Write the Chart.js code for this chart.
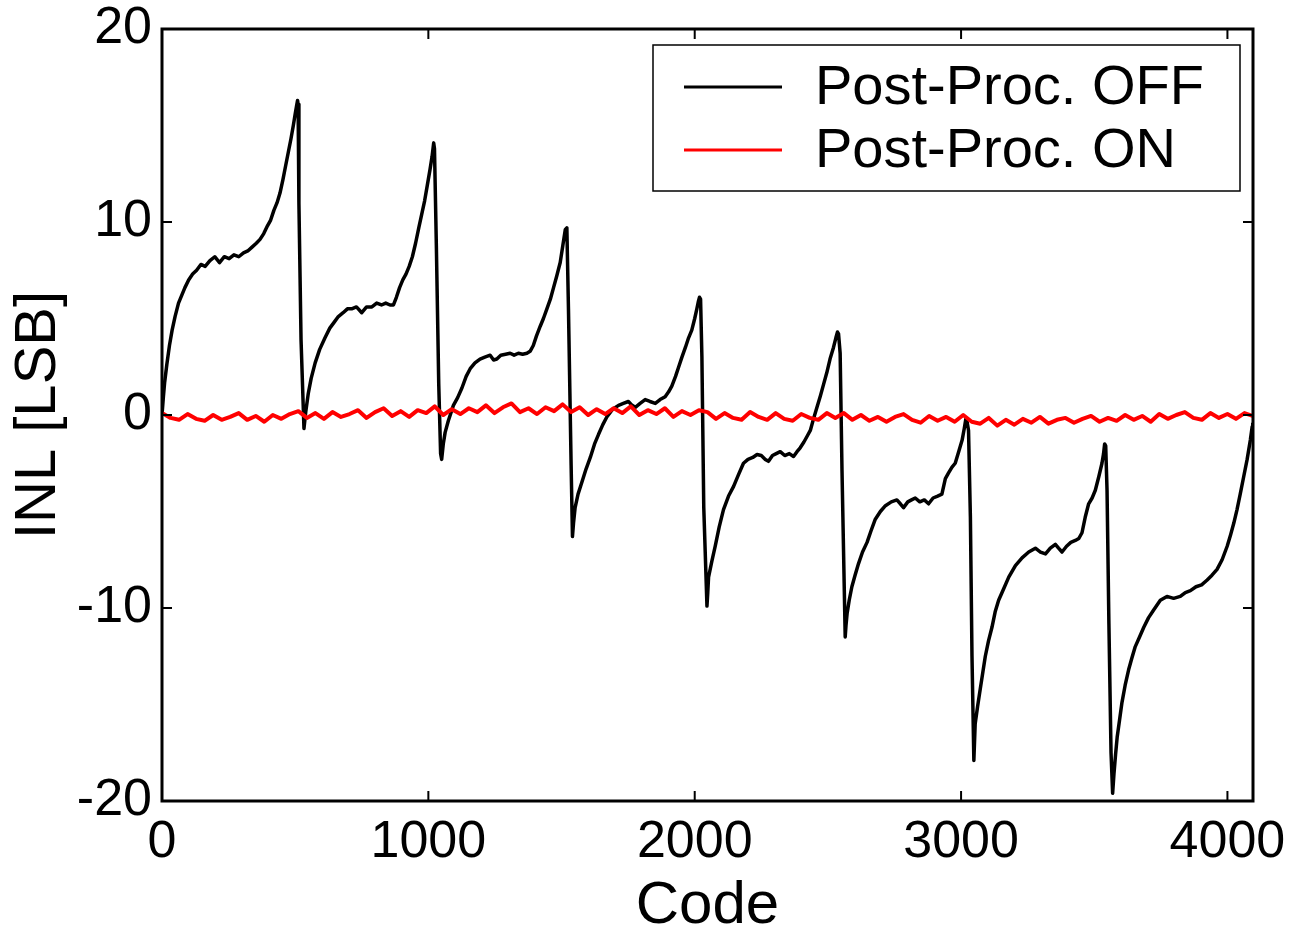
<!DOCTYPE html>
<html>
<head>
<meta charset="utf-8">
<script src="https://cdn.jsdelivr.net/npm/chart.js@4.4.1/dist/chart.umd.min.js"></script>
<style>
  html, body { margin: 0; padding: 0; background: #fff; }
  canvas { display: block; }
</style>
</head>
<body>
<canvas id="inlChart" width="1293" height="936"></canvas>
<script>
// INL vs output code
const xTicks = [0, 1000, 2000, 3000, 4000];
const yTicks = [-20, -10, 0, 10, 20];

const offLabel = 'Post-Proc. OFF';
const offCodes = [
  0, 5, 10, 18, 28, 38, 49, 62, 74, 86, 100, 115, 130, 146, 162, 180, 198, 216, 234, 252,
  270, 288, 306, 322, 338, 354, 368, 382, 396, 408, 420, 432, 443, 454, 464, 474, 484, 493, 500, 505,
  509, 511, 514, 522,
  533, 540, 549, 560, 575, 592, 612, 630, 646, 662, 680, 696, 712, 730, 750, 768, 788, 806, 824, 840,
  856, 869, 880, 892, 904, 916, 928, 940, 952, 964, 975, 986, 996, 1006, 1014, 1020, 1023, 1030, 1039, 1046,
  1050, 1056, 1063, 1075, 1094, 1110, 1126, 1142, 1157, 1175, 1194, 1212, 1232, 1245, 1257, 1272, 1290, 1307, 1322, 1338,
  1354, 1370, 1382, 1394, 1406, 1420, 1432, 1445, 1458, 1470, 1482, 1495, 1505, 1514, 1520, 1526, 1536,
  1541, 1545, 1551, 1562, 1576, 1592, 1608, 1624, 1639, 1655, 1670, 1692, 1714, 1732, 1751, 1765, 1777, 1795, 1814, 1832,
  1852, 1870, 1889, 1902, 1914, 1928, 1940, 1952, 1965, 1977, 1989, 2000, 2008, 2014, 2018, 2022, 2027, 2034,
  2046, 2049, 2052, 2064, 2077, 2092, 2108, 2127, 2146, 2164, 2183, 2200, 2218, 2234, 2250, 2265, 2277, 2292, 2306, 2321,
  2338, 2355, 2371, 2384, 2396, 2410, 2422, 2434, 2446, 2459, 2472, 2484, 2496, 2508, 2521, 2530, 2536, 2540, 2546, 2553,
  2565, 2568, 2572, 2580, 2590, 2602, 2615, 2630, 2647, 2662, 2678, 2697, 2716, 2738, 2759, 2772, 2784, 2800, 2814, 2828,
  2845, 2862, 2878, 2895, 2912, 2928, 2941, 2953, 2966, 2978, 2991, 3004, 3012, 3018, 3022, 3028, 3035, 3041,
  3048, 3053, 3062, 3072, 3082, 3091, 3103, 3116, 3128, 3141, 3160, 3179, 3204, 3229, 3254, 3279, 3298, 3317, 3335, 3354,
  3366, 3379, 3396, 3412, 3429, 3442, 3454, 3466, 3479, 3492, 3504, 3517, 3529, 3535, 3539, 3543, 3548, 3555, 3563,
  3569, 3574, 3580, 3586, 3595, 3604, 3616, 3629, 3641, 3654, 3670, 3686, 3704, 3723, 3748, 3773, 3798, 3823, 3842, 3861,
  3882, 3903, 3924, 3942, 3961, 3980, 3999, 4012, 4024, 4036, 4048, 4061, 4074, 4086, 4093, 4095
];
const offValues = [
  0.0, 0.9, 1.7, 2.6, 3.6, 4.4, 5.1, 5.8, 6.2, 6.6, 7.0, 7.3, 7.5, 7.8, 7.7, 8.0, 8.2, 7.9, 8.2, 8.1,
  8.3, 8.2, 8.4, 8.5, 8.7, 8.9, 9.1, 9.4, 9.8, 10.1, 10.6, 11.0, 11.5, 12.2, 12.9, 13.6, 14.3, 15.0, 15.6, 16.0,
  16.3, 16.1, 11.0, 3.9,
  -0.7, 0.2, 1.1, 1.9, 2.7, 3.4, 4.0, 4.5, 4.8, 5.1, 5.3, 5.5, 5.5, 5.6, 5.3, 5.6, 5.6, 5.8, 5.7, 5.8,
  5.7, 5.7, 6.1, 6.6, 7.0, 7.3, 7.7, 8.2, 8.9, 9.7, 10.4, 11.1, 11.9, 12.7, 13.4, 14.1, 13.8, 8.8, 1.6, -2.0,
  -2.3, -1.5, -0.9, -0.3, 0.5, 0.9, 1.4, 2.0, 2.4, 2.7, 2.9, 3.0, 3.1, 2.85, 2.9, 3.1, 3.15, 3.2, 3.1, 3.2,
  3.15, 3.2, 3.3, 3.6, 4.1, 4.6, 5.0, 5.5, 6.0, 6.6, 7.2, 7.9, 8.8, 9.6, 9.7, 5.5, -2.6,
  -6.3, -5.6, -4.8, -4.1, -3.5, -2.8, -2.2, -1.5, -1.0, -0.5, -0.1, 0.3, 0.5, 0.6, 0.7, 0.5, 0.4, 0.6, 0.8, 0.7,
  0.6, 0.8, 0.95, 1.2, 1.5, 2.0, 2.5, 3.0, 3.5, 4.0, 4.4, 5.0, 5.5, 5.9, 6.1, 6.0, 3.0, -4.8,
  -9.9, -9.2, -8.4, -7.6, -6.8, -5.8, -4.9, -4.2, -3.7, -3.1, -2.5, -2.3, -2.2, -2.05, -2.1, -2.3, -2.4, -2.1, -2.0, -1.9,
  -2.1, -2.0, -2.15, -1.9, -1.7, -1.4, -1.1, -0.8, -0.2, 0.4, 1.0, 1.6, 2.2, 2.9, 3.5, 4.0, 4.3, 4.2, 3.2, -2.9,
  -11.5, -10.9, -10.3, -9.6, -8.9, -8.3, -7.7, -7.1, -6.6, -6.0, -5.4, -5.0, -4.7, -4.5, -4.4, -4.6, -4.8, -4.5, -4.4, -4.3,
  -4.5, -4.4, -4.6, -4.3, -4.2, -4.1, -3.3, -3.0, -2.7, -2.5, -1.9, -1.3, -0.7, -0.2, -0.3, -0.8, -5.3, -12.5,
  -17.9, -16.0, -15.1, -14.2, -13.3, -12.5, -11.7, -11.0, -10.2, -9.6, -9.0, -8.4, -7.8, -7.4, -7.1, -6.9, -7.1, -7.2, -6.9, -6.7,
  -6.9, -7.1, -6.8, -6.6, -6.5, -6.4, -6.1, -5.3, -4.6, -4.3, -3.9, -3.2, -2.5, -2.0, -1.5, -1.6, -3.9, -10.8, -17.5,
  -19.6, -18.6, -17.6, -16.7, -15.8, -14.9, -14.0, -13.2, -12.6, -12.0, -11.5, -11.0, -10.5, -10.1, -9.6, -9.4, -9.5, -9.4, -9.2, -9.1,
  -8.9, -8.8, -8.55, -8.3, -8.0, -7.5, -6.8, -6.2, -5.6, -4.9, -4.1, -3.2, -2.3, -1.3, -0.6, -0.4
];

const onLabel = 'Post-Proc. ON';
const onCodes = [
  0, 32, 64, 96, 128, 160, 192, 224, 256, 288, 320, 352, 384, 416, 448, 480,
  512, 544, 576, 608, 640, 672, 704, 736, 768, 800, 832, 864, 896, 928, 960, 992,
  1024, 1056, 1088, 1120, 1152, 1184, 1216, 1248, 1280, 1312, 1344, 1376, 1408, 1440, 1472, 1504,
  1536, 1568, 1600, 1632, 1664, 1696, 1728, 1760, 1792, 1824, 1856, 1888, 1920, 1952, 1984, 2016,
  2048, 2080, 2112, 2144, 2176, 2208, 2240, 2272, 2304, 2336, 2368, 2400, 2432, 2464, 2496, 2528,
  2560, 2592, 2624, 2656, 2688, 2720, 2752, 2784, 2816, 2848, 2880, 2912, 2944, 2976, 3008, 3040,
  3072, 3104, 3136, 3168, 3200, 3232, 3264, 3296, 3328, 3360, 3392, 3424, 3456, 3488, 3520, 3552,
  3584, 3616, 3648, 3680, 3712, 3744, 3776, 3808, 3840, 3872, 3904, 3936, 3968, 4000, 4032, 4064,
  4095
];
const onValues = [
  0.1, -0.15, -0.25, 0.05, -0.2, -0.3, 0.0, -0.25, -0.1, 0.1, -0.25, -0.05, -0.35, 0.0, -0.2, 0.05,
  0.2, -0.15, 0.1, -0.2, 0.15, -0.1, 0.05, 0.25, -0.15, 0.15, 0.35, -0.05, 0.2, -0.1, 0.25, 0.1,
  0.45, 0.0, 0.3, 0.05, 0.35, 0.15, 0.5, 0.1, 0.4, 0.6, 0.15, 0.35, 0.05, 0.4, 0.2, 0.55,
  0.15, 0.4, 0.0, 0.3, 0.05, 0.35, 0.1, 0.45, 0.0, 0.25, 0.05, 0.35, -0.1, 0.2, 0.0, 0.25,
  0.15, -0.2, 0.1, -0.15, -0.25, 0.15, -0.1, -0.25, 0.1, -0.2, -0.3, 0.05, -0.15, -0.25, 0.1, -0.15,
  0.1, -0.25, 0.0, -0.3, -0.1, -0.35, -0.1, 0.05, -0.25, -0.4, -0.05, -0.3, -0.1, -0.35, 0.0, -0.35,
  -0.45, -0.15, -0.55, -0.25, -0.5, -0.2, -0.4, -0.1, -0.45, -0.25, -0.15, -0.4, -0.2, -0.05, -0.35, -0.15,
  -0.3, 0.0, -0.25, -0.05, -0.35, 0.05, -0.2, 0.0, 0.15, -0.15, -0.25, 0.1, -0.15, 0.05, -0.2, 0.1,
  -0.05
];

const FONT = '"Liberation Sans", Arial, Helvetica, sans-serif';

// box around the plot with inward ticks on all four sides
const framePlugin = {
  id: 'frame',
  afterDatasetsDraw(chart) {
    const { ctx, chartArea: a, scales } = chart;
    const x = scales.x, y = scales.y;
    const len = 10;
    ctx.save();
    ctx.strokeStyle = '#000';
    ctx.lineWidth = 2;
    ctx.beginPath();
    xTicks.forEach(v => {
      const px = x.getPixelForValue(v);
      ctx.moveTo(px, a.bottom); ctx.lineTo(px, a.bottom - len);
      ctx.moveTo(px, a.top); ctx.lineTo(px, a.top + len);
    });
    yTicks.forEach(v => {
      const py = y.getPixelForValue(v);
      ctx.moveTo(a.left, py); ctx.lineTo(a.left + len, py);
      ctx.moveTo(a.right, py); ctx.lineTo(a.right - len, py);
    });
    ctx.stroke();
    ctx.lineWidth = 3;
    ctx.strokeRect(a.left, a.top, a.right - a.left, a.bottom - a.top);
    ctx.restore();
  }
};

// framed legend in the upper right
const boxLegend = {
  id: 'boxLegend',
  afterDraw(chart) {
    const { ctx } = chart;
    const box = { left: 653, top: 45, right: 1240, bottom: 191 };
    ctx.save();
    ctx.fillStyle = '#fff';
    ctx.fillRect(box.left, box.top, box.right - box.left, box.bottom - box.top);
    ctx.strokeStyle = '#000';
    ctx.lineWidth = 1.5;
    ctx.strokeRect(box.left, box.top, box.right - box.left, box.bottom - box.top);
    ctx.font = '56px ' + FONT;
    ctx.textBaseline = 'alphabetic';
    ctx.textAlign = 'left';
    chart.data.datasets.forEach((ds, i) => {
      const rowY = 87 + i * 63;
      ctx.strokeStyle = ds.borderColor;
      ctx.lineWidth = 3;
      ctx.beginPath();
      ctx.moveTo(684, rowY);
      ctx.lineTo(782, rowY);
      ctx.stroke();
      ctx.fillStyle = '#000';
      ctx.fillText(ds.label, 815, rowY + 17);
    });
    ctx.restore();
  }
};

new Chart(document.getElementById('inlChart'), {
  type: 'line',
  data: {
    datasets: [
      {
        label: offLabel,
        data: offCodes.map((c, i) => ({ x: c, y: offValues[i] })),
        borderColor: '#000000',
        borderWidth: 3.5,
        borderJoinStyle: 'round',
        pointRadius: 0,
        tension: 0,
        order: 1
      },
      {
        label: onLabel,
        data: onCodes.map((c, i) => ({ x: c, y: onValues[i] })),
        borderColor: '#ff0000',
        borderWidth: 4,
        borderJoinStyle: 'round',
        pointRadius: 0,
        tension: 0,
        order: 0
      }
    ]
  },
  options: {
    responsive: false,
    animation: false,
    devicePixelRatio: 1,
    layout: { padding: { top: 29, right: 40, left: 0, bottom: 0 } },
    plugins: {
      legend: { display: false },
      tooltip: { enabled: false }
    },
    scales: {
      x: {
        type: 'linear',
        min: 0,
        max: 4096,
        afterBuildTicks: axis => { axis.ticks = xTicks.map(v => ({ value: v })); },
        afterFit: axis => {
          axis.height = 135;
          axis.paddingLeft = 0;
          axis.paddingRight = 0;
        },
        grid: { display: false, drawTicks: false },
        border: { display: false },
        ticks: {
          color: '#000',
          padding: 10,
          maxRotation: 0,
          callback: v => String(v),
          font: { family: FONT, size: 52 }
        },
        title: {
          display: true,
          text: 'Code',
          color: '#000',
          padding: { top: 0, bottom: 0 },
          font: { family: FONT, size: 60, lineHeight: 1 }
        }
      },
      y: {
        min: -20,
        max: 20,
        afterBuildTicks: axis => { axis.ticks = yTicks.map(v => ({ value: v })); },
        afterFit: axis => {
          axis.width = 162;
          axis.paddingTop = 0;
          axis.paddingBottom = 0;
        },
        grid: { display: false, drawTicks: false },
        border: { display: false },
        ticks: {
          color: '#000',
          padding: 10,
          callback: v => String(v),
          font: { family: FONT, size: 52 }
        },
        title: {
          display: true,
          text: 'INL [LSB]',
          color: '#000',
          padding: { top: 10, bottom: 0 },
          font: { family: FONT, size: 58, lineHeight: 1 }
        }
      }
    }
  },
  plugins: [framePlugin, boxLegend]
});
</script>
</body>
</html>
